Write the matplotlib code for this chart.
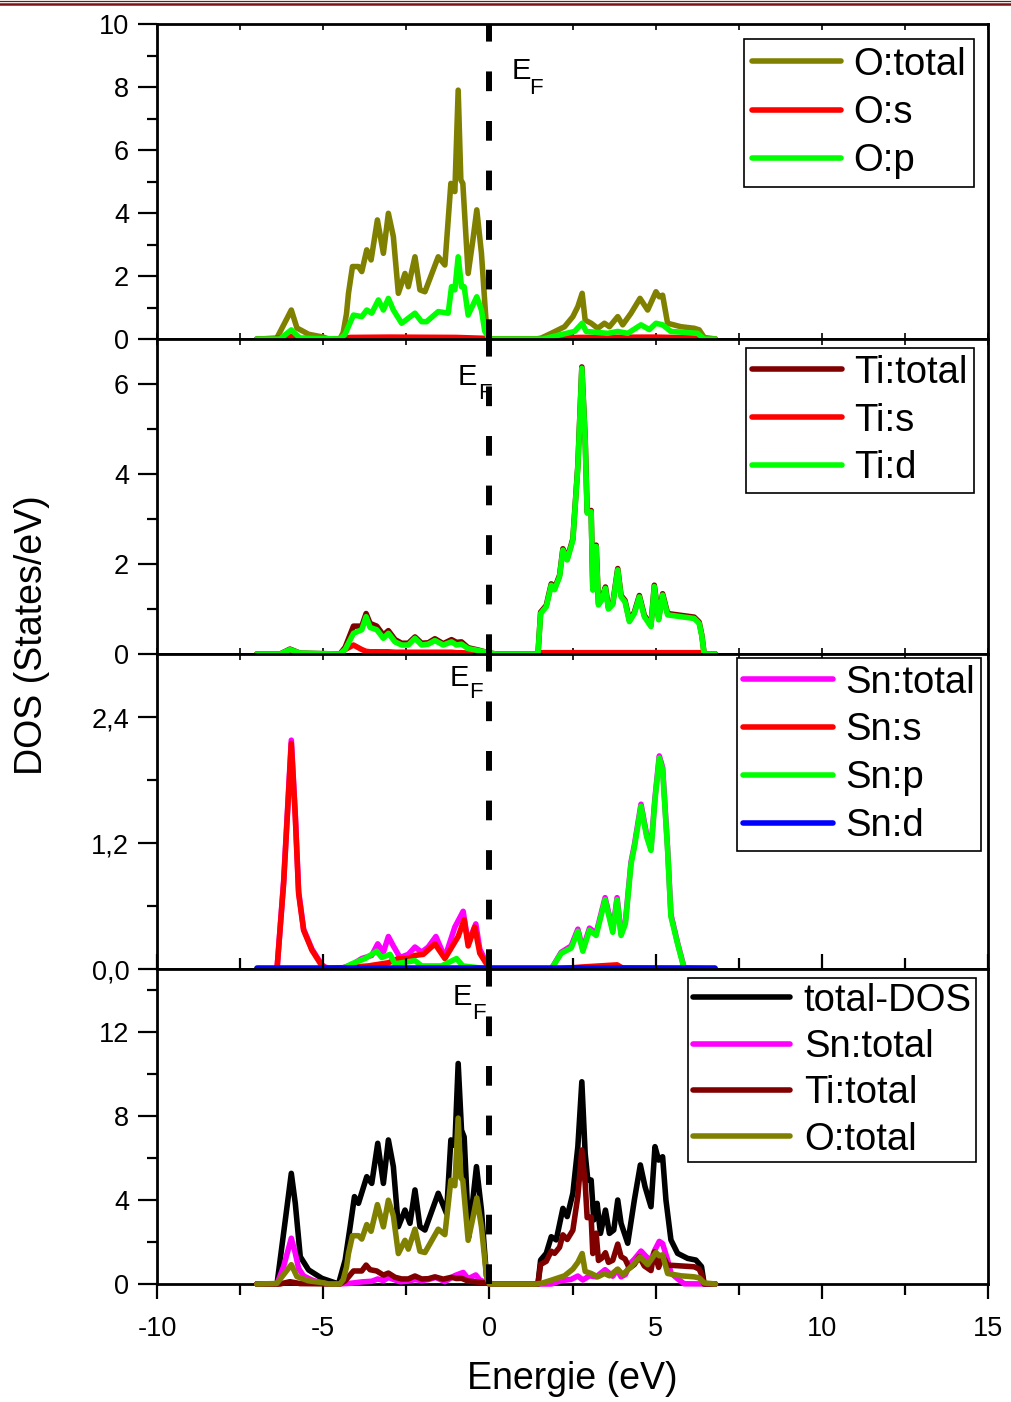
import matplotlib
matplotlib.use("Agg")
import matplotlib.pyplot as plt
from matplotlib.lines import Line2D
from matplotlib.ticker import FixedLocator, FixedFormatter, MultipleLocator

plt.rcParams['font.family'] = ['Liberation Sans', 'DejaVu Sans']

# ---------------- O partial DOS ----------------
o_total_e = [-7.0, -6.4, -6.14, -5.96, -5.79, -5.44, -5.0, -4.84, -4.5, -4.4, -4.3, -4.24, -4.12,
             -3.94, -3.84, -3.69, -3.56, -3.37, -3.19, -3.04, -2.89, -2.74, -2.54, -2.44, -2.24,
             -2.09, -1.94, -1.54, -1.34, -1.16, -1.04, -0.94, -0.86, -0.8, -0.64, -0.49, -0.38,
             -0.24, -0.09, 0.0,
             1.4, 1.56, 1.86, 2.26, 2.51, 2.66, 2.79, 2.88, 3.06, 3.26, 3.46, 3.61, 3.86, 4.01,
             4.26, 4.53, 4.76, 5.01, 5.11, 5.21, 5.36, 5.76, 6.16, 6.31, 6.46, 6.8]
o_total_v = [0, 0.02, 0.55, 0.92, 0.35, 0.15, 0.06, 0.0, 0.0, 0.2, 0.8, 1.45, 2.3,
             2.3, 2.14, 2.83, 2.51, 3.78, 2.72, 3.99, 3.25, 1.45, 2.08, 1.66, 2.61,
             1.56, 1.5, 2.61, 2.35, 4.94, 4.68, 7.9, 5.05, 4.94, 2.08, 3.2, 4.1,
             2.72, 0.39, 0.0,
             0, 0.03, 0.18, 0.39, 0.71, 1.03, 1.45, 0.6, 0.5, 0.34, 0.5, 0.39, 0.71, 0.45,
             0.82, 1.29, 0.92, 1.5, 1.34, 1.39, 0.5, 0.39, 0.34, 0.29, 0.05, 0]

o_s_e = [-7.0, -6.1, -5.96, -5.8, -4.5, -4.2, -3.0, -1.0, -0.1, 0.0, 1.5, 2.7, 5.0, 6.4, 6.5, 6.8]
o_s_v = [0, 0.03, 0.08, 0.02, 0.0, 0.05, 0.06, 0.05, 0.02, 0, 0, 0.05, 0.06, 0.03, 0, 0]

o_p_e = [-7.0, -6.3, -5.96, -5.7, -4.5, -4.34, -4.24, -4.09, -3.84, -3.69, -3.54, -3.34, -3.19,
         -3.04, -2.89, -2.64, -2.44, -2.24, -2.04, -1.89, -1.54, -1.24, -1.14, -1.04, -0.94,
         -0.84, -0.76, -0.64, -0.38, -0.24, -0.14, 0.0,
         1.6, 2.56, 2.79, 2.91, 3.56, 3.86, 4.16, 4.56, 4.81, 5.01, 5.21, 5.46, 6.26, 6.46, 6.8]
o_p_v = [0, 0, 0.29, 0.03, 0, 0.15, 0.4, 0.76, 0.71, 0.92, 0.82, 1.24, 0.92,
         1.29, 0.92, 0.5, 0.66, 0.82, 0.55, 0.55, 0.87, 0.82, 1.66, 1.56, 2.61,
         1.66, 1.66, 0.76, 1.34, 0.92, 0.25, 0,
         0, 0.24, 0.5, 0.24, 0.18, 0.24, 0.18, 0.45, 0.3, 0.5, 0.45, 0.24, 0.18, 0, 0]

# ---------------- Ti partial DOS ----------------
ti_e = [-7.0, -6.3, -6.0, -5.7, -4.5, -4.34, -4.09, -3.84, -3.71, -3.59, -3.39, -3.19, -3.04,
        -2.84, -2.64, -2.44, -2.24, -2.04, -1.84, -1.64, -1.39, -1.14, -0.99, -0.84, -0.64,
        -0.34, -0.04, 0.2,
        1.46, 1.54, 1.71, 1.86, 1.96, 2.11, 2.21, 2.34, 2.51, 2.66, 2.78, 2.88, 2.94, 3.06,
        3.11, 3.21, 3.28, 3.38, 3.49, 3.58, 3.71, 3.86, 3.96, 4.08, 4.21, 4.36, 4.51, 4.66,
        4.86, 4.96, 5.09, 5.21, 5.36, 5.76, 6.16, 6.31, 6.39, 6.46, 6.8]
ti_total_v = [0, 0, 0.11, 0.02, 0, 0.15, 0.62, 0.62, 0.9, 0.68, 0.62, 0.42, 0.52,
              0.32, 0.24, 0.24, 0.38, 0.24, 0.25, 0.34, 0.23, 0.32, 0.26, 0.27, 0.14,
              0.09, 0.03, 0,
              0, 0.93, 1.08, 1.56, 1.46, 1.75, 2.34, 2.12, 2.56, 4.19, 6.38, 4.79, 3.16, 3.19,
              1.45, 2.42, 1.12, 1.23, 1.49, 1.03, 1.13, 1.9, 1.3, 1.19, 0.75, 0.93, 1.3, 0.86,
              0.64, 1.53, 0.79, 1.34, 0.9, 0.86, 0.82, 0.71, 0.42, 0, 0]
ti_s_v = [0, 0, 0.01, 0, 0, 0.1, 0.2, 0.1, 0.06, 0.05, 0.05, 0.05, 0.05,
          0.04, 0.04, 0.04, 0.04, 0.04, 0.04, 0.04, 0.04, 0.04, 0.03, 0.03, 0.02,
          0.01, 0.0, 0,
          0, 0.03, 0.03, 0.03, 0.03, 0.03, 0.03, 0.03, 0.03, 0.03, 0.03, 0.03, 0.03, 0.03,
          0.03, 0.03, 0.03, 0.03, 0.03, 0.03, 0.03, 0.03, 0.03, 0.03, 0.03, 0.03, 0.03, 0.03,
          0.03, 0.03, 0.03, 0.03, 0.03, 0.03, 0.03, 0.03, 0.03, 0, 0]
ti_d_v = [0, 0, 0.1, 0.02, 0, 0.1, 0.46, 0.54, 0.83, 0.59, 0.54, 0.35, 0.46,
          0.27, 0.2, 0.2, 0.35, 0.2, 0.22, 0.3, 0.2, 0.27, 0.2, 0.22, 0.12,
          0.08, 0.03, 0,
          0, 0.9, 1.05, 1.53, 1.43, 1.72, 2.31, 2.09, 2.53, 4.16, 6.35, 4.76, 3.13, 3.16,
          1.42, 2.39, 1.09, 1.2, 1.46, 1.0, 1.1, 1.87, 1.27, 1.16, 0.72, 0.9, 1.27, 0.83,
          0.61, 1.5, 0.76, 1.31, 0.87, 0.83, 0.79, 0.68, 0.4, 0, 0]

# ---------------- Sn partial DOS ----------------
sn_total_e = [-7.0, -6.39, -6.19, -5.96, -5.84, -5.74, -5.59, -5.34, -5.04, -4.89, -4.44, -4.14,
              -3.84, -3.54, -3.36, -3.19, -3.04, -2.89, -2.69, -2.44, -2.24, -2.04, -1.84, -1.61,
              -1.34, -1.04, -0.79, -0.64, -0.41, -0.29, -0.09, 0.0,
              1.86, 2.16, 2.46, 2.66, 2.81, 3.01, 3.21, 3.48, 3.71, 3.84, 3.96, 4.09, 4.26, 4.36,
              4.56, 4.73, 4.86, 4.98, 5.11, 5.21, 5.36, 5.46, 5.66, 5.86, 6.8]
sn_total_v = [0, 0, 0.84, 2.18, 1.47, 0.74, 0.38, 0.19, 0.04, 0.01, 0.01, 0.04,
              0.1, 0.13, 0.24, 0.16, 0.31, 0.22, 0.11, 0.14, 0.21, 0.16, 0.21, 0.31,
              0.11, 0.4, 0.55, 0.25, 0.43, 0.19, 0.06, 0,
              0, 0.16, 0.22, 0.38, 0.19, 0.39, 0.34, 0.68, 0.37, 0.68, 0.34, 0.45, 1.02, 1.18,
              1.57, 1.28, 1.15, 1.63, 2.03, 1.92, 1.15, 0.52, 0.25, 0.01, 0]

sn_s_e = [-7.0, -6.39, -6.19, -5.96, -5.84, -5.74, -5.59, -5.34, -5.04, -4.89, -3.64, -3.04,
          -2.74, -2.44, -2.24, -1.99, -1.64, -1.34, -0.94, -0.76, -0.64, -0.44, -0.29, -0.09,
          0.0, 2.0, 2.8, 3.84, 4.0, 6.8]
sn_s_v = [0, 0, 0.82, 2.15, 1.45, 0.72, 0.37, 0.18, 0.03, 0.0, 0.03, 0.06,
          0.1, 0.1, 0.13, 0.14, 0.24, 0.1, 0.31, 0.47, 0.22, 0.4, 0.15, 0.05,
          0, 0, 0.02, 0.04, 0.01, 0]

sn_p_e = [-7.0, -4.44, -4.14, -3.74, -3.39, -3.24, -2.99, -2.84, -2.24, -2.04, -1.44, -0.99,
          -0.8, 0.0,
          1.86, 2.16, 2.46, 2.66, 2.81, 3.01, 3.21, 3.48, 3.71, 3.84, 3.96, 4.09, 4.26, 4.36,
          4.56, 4.73, 4.86, 4.98, 5.11, 5.21, 5.36, 5.46, 5.66, 5.86, 6.8]
sn_p_v = [0, 0, 0.05, 0.1, 0.17, 0.11, 0.14, 0.05, 0.08, 0.03, 0.03, 0.1,
          0.03, 0,
          0, 0.15, 0.2, 0.36, 0.17, 0.37, 0.32, 0.66, 0.35, 0.66, 0.32, 0.43, 1.0, 1.16,
          1.55, 1.26, 1.13, 1.61, 2.01, 1.9, 1.13, 0.5, 0.24, 0, 0]

sn_d_e = [-7.0, 6.8]
sn_d_v = [0.01, 0.01]

# ---------------- total DOS ----------------
tot_e = [-7.0, -6.39, -6.14, -5.96, -5.84, -5.69, -5.44, -5.04, -4.54, -4.34, -4.19, -4.06, -3.94,
         -3.69, -3.54, -3.36, -3.19, -3.04, -2.89, -2.74, -2.54, -2.39, -2.24, -2.09, -1.94,
         -1.54, -1.29, -1.16, -1.04, -0.94, -0.84, -0.76, -0.62, -0.39, -0.24, -0.09, 0.0,
         1.46, 1.54, 1.71, 1.86, 2.01, 2.21, 2.34, 2.51, 2.66, 2.78, 2.88, 2.96, 3.06, 3.14,
         3.24, 3.34, 3.49, 3.61, 3.74, 3.86, 3.96, 4.16, 4.36, 4.54, 4.68, 4.86, 4.98, 5.09,
         5.21, 5.31, 5.46, 5.66, 5.96, 6.21, 6.38, 6.46, 6.8]
tot_v = [0, 0, 3.05, 5.27, 3.84, 1.3, 0.67, 0.27, 0, 1.14, 2.73, 4.16, 3.84,
         5.11, 4.79, 6.7, 4.79, 6.86, 5.59, 2.73, 3.52, 2.89, 4.48, 2.73, 2.57,
         4.32, 3.36, 6.86, 6.6, 10.5, 7.33, 7.0, 2.25, 5.59, 3.52, 0.4, 0,
         0, 1.14, 1.46, 2.25, 2.1, 3.6, 3.21, 4.32, 6.54, 9.63, 6.22, 4.95, 4.95, 3.05,
         3.84, 2.41, 3.52, 2.41, 2.57, 4.0, 2.89, 1.94, 4.0, 5.67, 4.64, 3.68, 6.54, 5.9,
         6.06, 4.0, 2.1, 1.46, 1.22, 1.14, 0.83, 0, 0]

# ---------------- axis settings per panel ----------------
ylims = [10, 7, 3.0, 15]
ymajor = [[0, 2, 4, 6, 8, 10], [0, 2, 4, 6], [0.0, 1.2, 2.4], [0, 4, 8, 12]]
ymajor_labels = [["0", "2", "4", "6", "8", "10"], ["0", "2", "4", "6"],
                 ["0,0", "1,2", "2,4"], ["0", "4", "8", "12"]]
yminor = [[1, 3, 5, 7, 9], [1, 3, 5], [0.6, 1.8], [2, 6, 10, 14]]
xticks = [-10, -5, 0, 5, 10, 15]
xtick_labels = ["-10", "-5", "0", "5", "10", "15"]

OLIVE = '#808000'
MAROON = '#800000'
RED = '#ff0000'
LIME = '#00ff00'
MAGENTA = '#ff00ff'
BLUE = '#0000ff'

LW = 4.0
FS_TICK = 19.5
FS_LEG = 27.5
FS_LAB = 27

fig = plt.figure(figsize=(10.11, 14.02), dpi=100)
left, width, height = 0.1553, 0.822, 0.22468
bottoms = [0.7582, 0.5335, 0.3088, 0.08417]
axes = [fig.add_axes([left, b, width, height]) for b in bottoms]

panels = [
    [(o_total_e, o_total_v, OLIVE, 'O:total'),
     (o_s_e, o_s_v, RED, 'O:s'),
     (o_p_e, o_p_v, LIME, 'O:p')],
    [(ti_e, ti_total_v, MAROON, 'Ti:total'),
     (ti_e, ti_s_v, RED, 'Ti:s'),
     (ti_e, ti_d_v, LIME, 'Ti:d')],
    [(sn_total_e, sn_total_v, MAGENTA, 'Sn:total'),
     (sn_s_e, sn_s_v, RED, 'Sn:s'),
     (sn_p_e, sn_p_v, LIME, 'Sn:p'),
     (sn_d_e, sn_d_v, BLUE, 'Sn:d')],
    [(tot_e, tot_v, 'black', 'total-DOS'),
     (sn_total_e, sn_total_v, MAGENTA, 'Sn:total'),
     (ti_e, ti_total_v, MAROON, 'Ti:total'),
     (o_total_e, o_total_v, OLIVE, 'O:total')],
]

legend_anchor = [(0.983, 0.952), (0.983, 0.971), (0.992, 0.987), (0.986, 0.971)]
legend_spacing = [0.32, 0.31, 0.31, 0.27]
legend_pad = [0.2, 0.17, 0.17, 0.12]
legend_handle = [2.35, 2.35, 2.35, 2.55]
legend_textpad = [0.32, 0.32, 0.32, 0.36]

# Fermi level annotations (E + subscript F)
ef_pos = [((0.96, 8.5), (1.41, 7.95)),
          ((-0.66, 6.16), (-0.15, 5.8)),
          ((-0.9, 2.77), (-0.42, 2.63)),
          ((-0.81, 13.67), (-0.33, 12.9))]

for i, ax in enumerate(axes):
    for e, v, c, lab in panels[i]:
        ax.plot(e, v, color=c, lw=LW, label=lab, solid_joinstyle='round',
                solid_capstyle='round', clip_on=False, zorder=3)
    ax.axvline(0, color='black', lw=4.3, linestyle=(0, (3.3, 5.0)),
               dash_capstyle='butt', zorder=4)
    ax.set_xlim(-10, 15)
    ax.set_ylim(0, ylims[i])

    ax.yaxis.set_major_locator(FixedLocator(ymajor[i]))
    ax.yaxis.set_major_formatter(FixedFormatter(ymajor_labels[i]))
    ax.yaxis.set_minor_locator(FixedLocator(yminor[i]))
    ax.xaxis.set_major_locator(FixedLocator(xticks))
    ax.xaxis.set_minor_locator(MultipleLocator(2.5))

    ax.tick_params(axis='y', which='major', direction='out', length=14, width=1.6,
                   labelsize=FS_TICK, pad=6, right=False)
    ax.tick_params(axis='y', which='minor', direction='out', length=7, width=1.6, right=False)
    if i < 3:
        ax.tick_params(axis='x', which='both', direction='in', length=4, width=1.2,
                       top=True, bottom=True, labelbottom=False)
    else:
        ax.xaxis.set_major_formatter(FixedFormatter(xtick_labels))
        ax.tick_params(axis='x', which='major', direction='out', length=11, width=1.6,
                       labelsize=FS_TICK, pad=12)
        ax.tick_params(axis='x', which='minor', direction='out', length=8, width=1.6)
        ax.tick_params(axis='x', which='both', top=True, labeltop=False)
    for s in ax.spines.values():
        s.set_linewidth(2.0)

    (ex, ey), (fx, fy) = ef_pos[i]
    ax.text(ex, ey, 'E', fontsize=21, ha='center', va='center', zorder=5)
    ax.text(fx, fy, 'F', fontsize=16, ha='center', va='center', zorder=5)

    leg = ax.legend(loc='upper right', bbox_to_anchor=legend_anchor[i],
                    fontsize=FS_LEG, frameon=True, fancybox=False, framealpha=1,
                    edgecolor='black', handlelength=legend_handle[i],
                    handletextpad=legend_textpad[i], labelspacing=legend_spacing[i],
                    borderpad=legend_pad[i], borderaxespad=0)
    leg.get_frame().set_linewidth(1.2)
    for ln in leg.get_lines():
        ln.set_linewidth(LW)

axes[3].set_xlabel('Energie (eV)', fontsize=FS_LAB, labelpad=14)
fig.text(0.032, 0.547, 'DOS (States/eV)', rotation=90, fontsize=FS_LAB,
         ha='center', va='center')

# decorative double rule across the top of the page
fig.add_artist(Line2D([0, 1], [1 - 0.6 / 1402, 1 - 0.6 / 1402], transform=fig.transFigure,
                      color='#7a1215', lw=0.9))
fig.add_artist(Line2D([0, 1], [1 - 3.6 / 1402, 1 - 3.6 / 1402], transform=fig.transFigure,
                      color='#7a1215', lw=1.8))

fig.savefig('out.png', dpi=100)
